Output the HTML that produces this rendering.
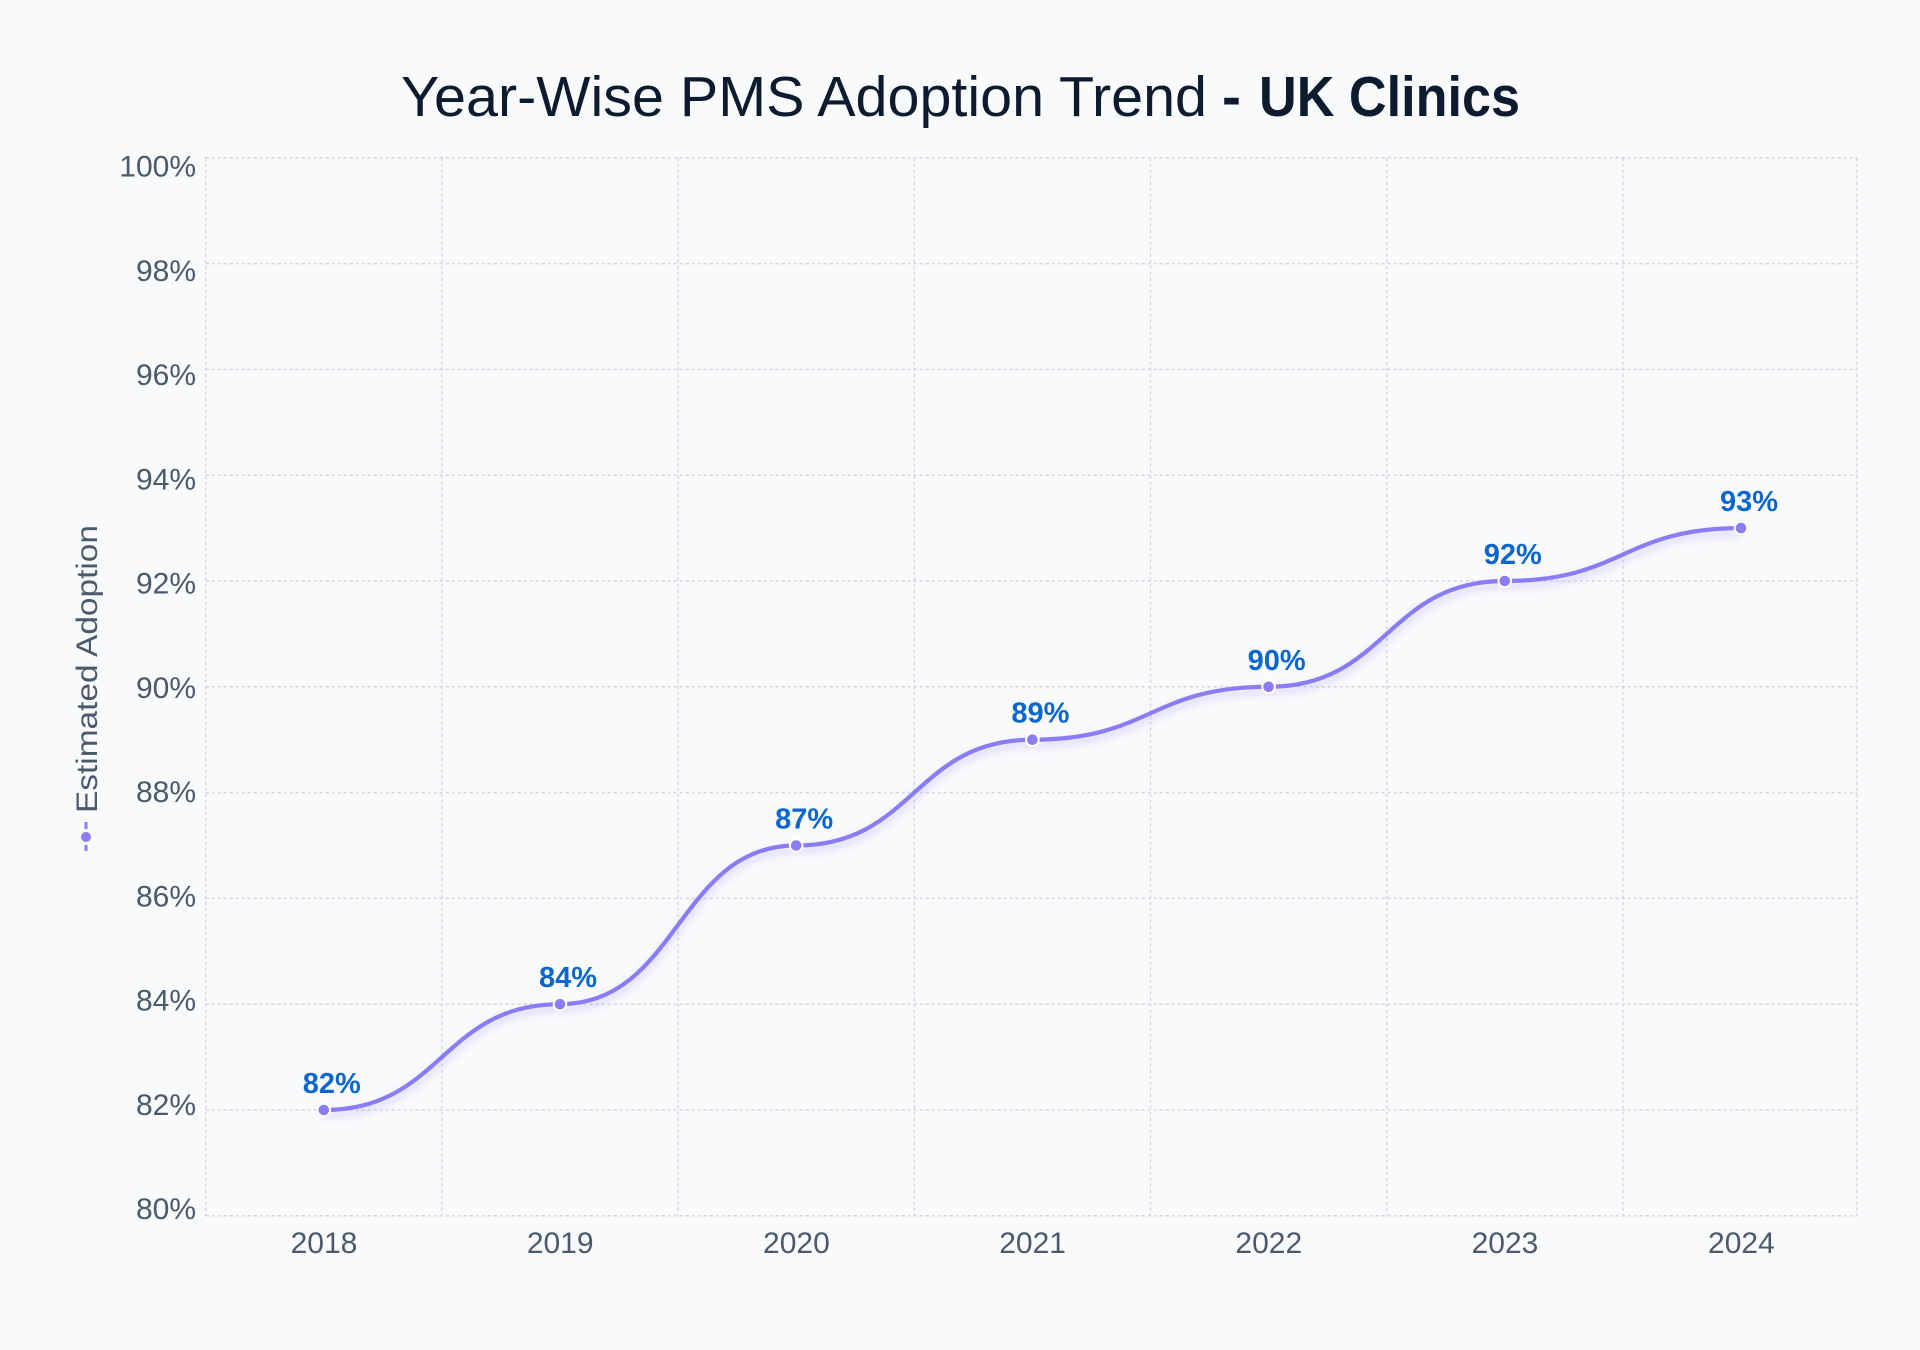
<!DOCTYPE html>
<html>
<head>
<meta charset="utf-8">
<style>
  html, body { margin: 0; padding: 0; background: #f9fafc; }
  svg { display: block; }
  text { font-family: "Liberation Sans", "DejaVu Sans", sans-serif; }
</style>
</head>
<body>
<svg width="1920" height="1350" viewBox="0 0 1920 1350" xmlns="http://www.w3.org/2000/svg">
  <defs>
    <filter id="glow" x="-10%" y="-20%" width="120%" height="140%">
      <feGaussianBlur in="SourceAlpha" stdDeviation="4" result="b"/>
      <feOffset in="b" dx="0" dy="5" result="o"/>
      <feFlood flood-color="#8b7cf6" flood-opacity="0.35"/>
      <feComposite in2="o" operator="in" result="s"/>
      <feMerge><feMergeNode in="s"/><feMergeNode in="SourceGraphic"/></feMerge>
    </filter>
  </defs>
  <rect width="1920" height="1350" fill="#f9fafc"/>

  <!-- Title -->
  <text x="401" y="116" font-size="57" fill="#0d1b2e" textLength="806" lengthAdjust="spacingAndGlyphs">Year-Wise PMS Adoption Trend</text>
  <text x="1222" y="116" font-size="57" font-weight="bold" fill="#0d1b2e">-</text>
  <text x="1259" y="116" font-size="57" font-weight="bold" fill="#0d1b2e" textLength="261" lengthAdjust="spacingAndGlyphs">UK Clinics</text>

  <!-- Grid -->
  <g stroke="#d3d7dd" stroke-width="1.5" stroke-dasharray="3 3" fill="none">
    <line x1="205.7" y1="1215.8" x2="1857" y2="1215.8"/>
    <line x1="205.7" y1="1110.0" x2="1857" y2="1110.0"/>
    <line x1="205.7" y1="1004.2" x2="1857" y2="1004.2"/>
    <line x1="205.7" y1="898.4" x2="1857" y2="898.4"/>
    <line x1="205.7" y1="792.6" x2="1857" y2="792.6"/>
    <line x1="205.7" y1="686.8" x2="1857" y2="686.8"/>
    <line x1="205.7" y1="581.0" x2="1857" y2="581.0"/>
    <line x1="205.7" y1="475.2" x2="1857" y2="475.2"/>
    <line x1="205.7" y1="369.4" x2="1857" y2="369.4"/>
    <line x1="205.7" y1="263.6" x2="1857" y2="263.6"/>
    <line x1="205.7" y1="157.8" x2="1857" y2="157.8"/>

    <line x1="205.7" y1="157.8" x2="205.7" y2="1215.8"/>
    <line x1="441.9" y1="157.8" x2="441.9" y2="1215.8"/>
    <line x1="678.1" y1="157.8" x2="678.1" y2="1215.8"/>
    <line x1="914.3" y1="157.8" x2="914.3" y2="1215.8"/>
    <line x1="1150.5" y1="157.8" x2="1150.5" y2="1215.8"/>
    <line x1="1386.7" y1="157.8" x2="1386.7" y2="1215.8"/>
    <line x1="1622.9" y1="157.8" x2="1622.9" y2="1215.8"/>
    <line x1="1857" y1="157.8" x2="1857" y2="1215.8"/>
  </g>

  <!-- Y tick labels -->
  <g font-size="30" fill="#4a5a6c" text-anchor="end">
    <text x="196" y="1219">80%</text>
    <text x="196" y="1114.8">82%</text>
    <text x="196" y="1010.5">84%</text>
    <text x="196" y="906.3">86%</text>
    <text x="196" y="802">88%</text>
    <text x="196" y="697.8">90%</text>
    <text x="196" y="593.5">92%</text>
    <text x="196" y="489.3">94%</text>
    <text x="196" y="385">96%</text>
    <text x="196" y="280.8">98%</text>
    <text x="196" y="176.5">100%</text>
  </g>

  <!-- X tick labels -->
  <g font-size="30" fill="#4a5a6c" text-anchor="middle">
    <text x="324" y="1253">2018</text>
    <text x="560.2" y="1253">2019</text>
    <text x="796.4" y="1253">2020</text>
    <text x="1032.6" y="1253">2021</text>
    <text x="1268.8" y="1253">2022</text>
    <text x="1505" y="1253">2023</text>
    <text x="1741.4" y="1253">2024</text>
  </g>

  <!-- Y axis title with legend marker -->
  <text transform="translate(97,813) rotate(-90)" font-size="30" fill="#4a5a6c" textLength="288" lengthAdjust="spacingAndGlyphs">Estimated Adoption</text>
  <g stroke="#8b7cf6" stroke-width="3">
    <line x1="86" y1="822" x2="86" y2="829"/>
    <line x1="86" y1="845" x2="86" y2="851"/>
  </g>
  <circle cx="86" cy="837" r="5" fill="#8b7cf6"/>

  <!-- Series line -->
  <path filter="url(#glow)" fill="none" stroke="#8b7cf6" stroke-width="4.2" stroke-linecap="round"
    d="M323.8,1110 C442,1110 442,1004.2 560,1004.2 C678.1,1004.2 678.1,845.5 796.2,845.5 C914.3,845.5 914.3,739.7 1032.4,739.7 C1150.5,739.7 1150.5,686.8 1268.6,686.8 C1386.7,686.8 1386.7,581 1504.8,581 C1622.9,581 1622.9,528.1 1741,528.1"/>

  <!-- Dots -->
  <g fill="#8b7cf6" stroke="#ffffff" stroke-width="2">
    <circle cx="323.8" cy="1110" r="6.3"/>
    <circle cx="560" cy="1004.2" r="6.3"/>
    <circle cx="796.2" cy="845.5" r="6.3"/>
    <circle cx="1032.4" cy="739.7" r="6.3"/>
    <circle cx="1268.6" cy="686.8" r="6.3"/>
    <circle cx="1504.8" cy="581" r="6.3"/>
    <circle cx="1741" cy="528.1" r="6.3"/>
  </g>

  <!-- Data labels -->
  <g font-size="29" font-weight="bold" fill="#0b66cf" text-anchor="middle">
    <text x="331.8" y="1093">82%</text>
    <text x="568" y="987.2">84%</text>
    <text x="804.2" y="828.5">87%</text>
    <text x="1040.4" y="722.7">89%</text>
    <text x="1276.6" y="669.8">90%</text>
    <text x="1512.8" y="564">92%</text>
    <text x="1749" y="511.1">93%</text>
  </g>
</svg>
</body>
</html>
